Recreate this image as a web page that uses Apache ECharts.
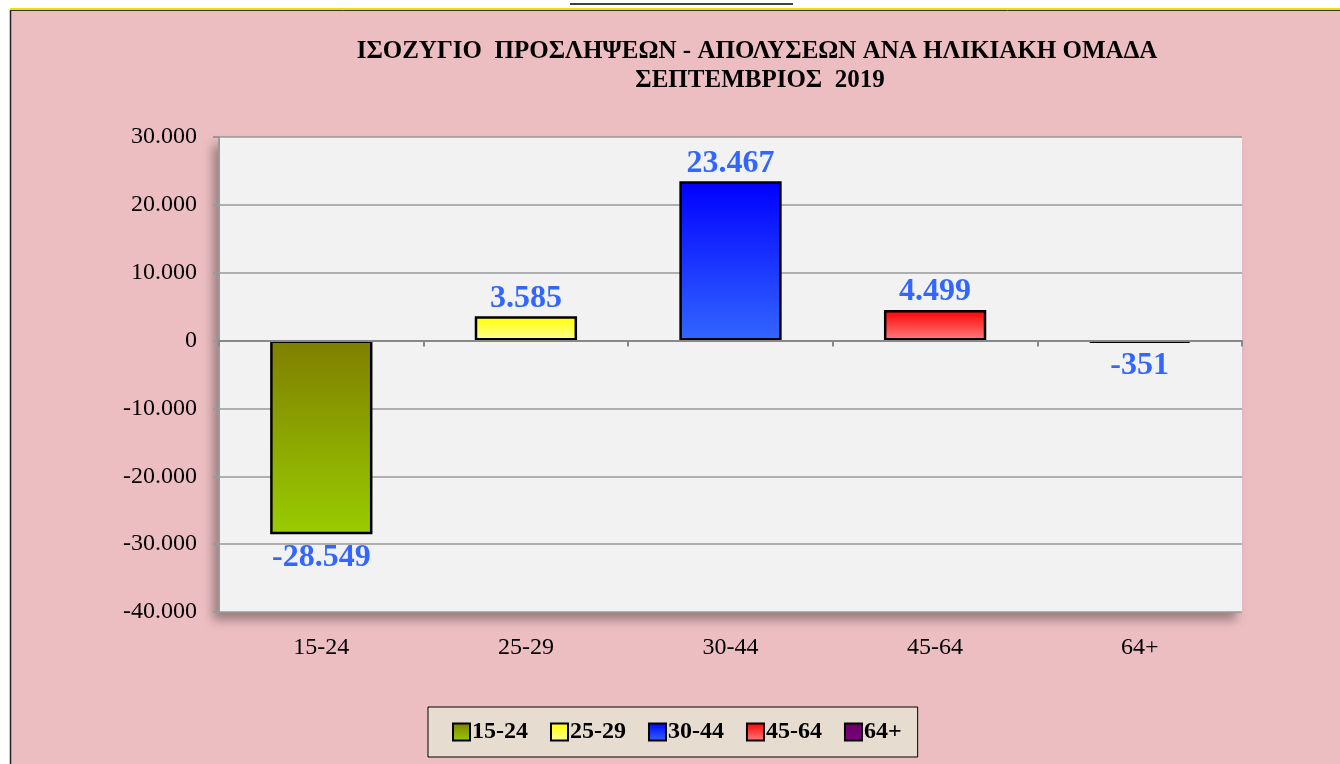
<!DOCTYPE html>
<html>
<head>
<meta charset="utf-8">
<script src="https://cdn.jsdelivr.net/npm/echarts@6/dist/echarts.min.js"></script>
<style>
html,body{margin:0;padding:0;background:#fff;}
#chart{width:1340px;height:764px;}
</style>
</head>
<body>
<div id="chart"></div>
<script>
const categories = ['15-24', '25-29', '30-44', '45-64', '64+'];
const values = [-28549, 3585, 23467, 4499, -351];
const topColors = ['#7f7f00', '#ffff00', '#0000ff', '#ff0000', '#660066'];
const bottomColors = ['#99cc00', '#ffff99', '#3366ff', '#ff8080', '#800080'];
const yTicks = { min: -40000, max: 30000, interval: 10000 };
const titleLines = ['ΙΣΟΖΥΓΙΟ  ΠΡΟΣΛΗΨΕΩΝ - ΑΠΟΛΥΣΕΩΝ ΑΝΑ ΗΛΙΚΙΑΚΗ ΟΜΑΔΑ', 'ΣΕΠΤΕΜΒΡΙΟΣ  2019'];

function fmt(v) {
  const s = Math.abs(v).toString().replace(/\B(?=(\d{3})+(?!\d))/g, '.');
  return (v < 0 ? '-' : '') + s;
}

const serif = '"Liberation Serif", "Times New Roman", serif';

const series = categories.map((name, i) => ({
  name: name,
  type: 'bar',
  stack: 'all',
  barWidth: '50%',
  xAxisIndex: 0,
  itemStyle: {
    color: new echarts.graphic.LinearGradient(0, 0, 0, 1, [
      { offset: 0, color: topColors[i] },
      { offset: 1, color: bottomColors[i] }
    ]),
    borderColor: '#000',
    borderWidth: 2.5
  },
  label: {
    show: true,
    color: '#3366ff',
    fontFamily: serif,
    fontWeight: 'bold',
    fontSize: 32,
    distance: 2,
    formatter: p => fmt(p.value)
  },
  data: categories.map((c, j) => j === i ? {
    value: values[j],
    label: values[j] < 0 ? { position: 'bottom', distance: 7 } : { position: 'top' }
  } : '-')
}));

const chart = echarts.init(document.getElementById('chart'));
chart.setOption({
  backgroundColor: '#ffffff',
  animation: false,
  graphic: [
    { type: 'rect', z: -10, shape: { x: 10, y: 10, width: 1330, height: 754 }, style: { fill: '#ecbec2' } },
    { type: 'line', shape: { x1: 10, y1: 9, x2: 1340, y2: 9 }, style: { stroke: '#f0e000', lineWidth: 2 } },
    { type: 'line', shape: { x1: 10, y1: 10.5, x2: 1340, y2: 10.5 }, style: { stroke: '#333', lineWidth: 1 } },
    { type: 'line', shape: { x1: 10.5, y1: 10, x2: 10.5, y2: 764 }, style: { stroke: '#222', lineWidth: 1.5 } },
    { type: 'line', shape: { x1: 570, y1: 4, x2: 793, y2: 4 }, style: { stroke: '#000', lineWidth: 1.5 } }
  ],
  title: [
    { text: titleLines[0], left: 752, top: 34, textAlign: 'center',
      textStyle: { fontFamily: serif, fontWeight: 'bold', fontSize: 25, color: '#000' } },
    { text: titleLines[1], left: 755, top: 63, textAlign: 'center',
      textStyle: { fontFamily: serif, fontWeight: 'bold', fontSize: 25, color: '#000' } }
  ],
  legend: {
    data: categories,
    left: 428,
    top: 707,
    padding: [13, 16, 13, 24],
    backgroundColor: '#e6ddd0',
    borderColor: '#000',
    borderWidth: 1,
    itemWidth: 17,
    itemHeight: 17,
    itemGap: 22,
    icon: 'rect',
    textStyle: { fontFamily: serif, fontWeight: 'bold', fontSize: 24, color: '#000', padding: [0, 0, 0, -3] }
  },
  grid: {
    left: 219, top: 137, right: 98, bottom: 152,
    show: true,
    backgroundColor: '#f2f2f2',
    borderWidth: 0,
    shadowColor: 'rgba(0,0,0,0.35)',
    shadowBlur: 10,
    shadowOffsetX: -6,
    shadowOffsetY: 8
  },
  xAxis: [
    {
      type: 'category',
      data: categories,
      position: 'bottom',
      axisLine: { show: true, onZero: true, lineStyle: { color: '#888', width: 2 } },
      axisTick: { show: true, length: 6, lineStyle: { color: '#888', width: 2 } },
      axisLabel: { show: false },
      z: 10
    },
    {
      type: 'category',
      data: categories,
      position: 'bottom',
      axisLine: { show: false, onZero: false },
      axisTick: { show: false },
      axisLabel: { show: true, margin: 24, fontFamily: serif, fontSize: 24, color: '#000' }
    }
  ],
  yAxis: {
    type: 'value',
    min: yTicks.min,
    max: yTicks.max,
    interval: yTicks.interval,
    axisLine: { show: true, lineStyle: { color: '#999', width: 2 } },
    axisTick: { show: true, length: 6, lineStyle: { color: '#999', width: 2 } },
    splitLine: { show: true, lineStyle: { color: '#999', width: 1.5 } },
    axisLabel: { margin: 22, fontFamily: serif, fontSize: 24, color: '#000', formatter: v => fmt(v) }
  },
  series: series
});
</script>
</body>
</html>
